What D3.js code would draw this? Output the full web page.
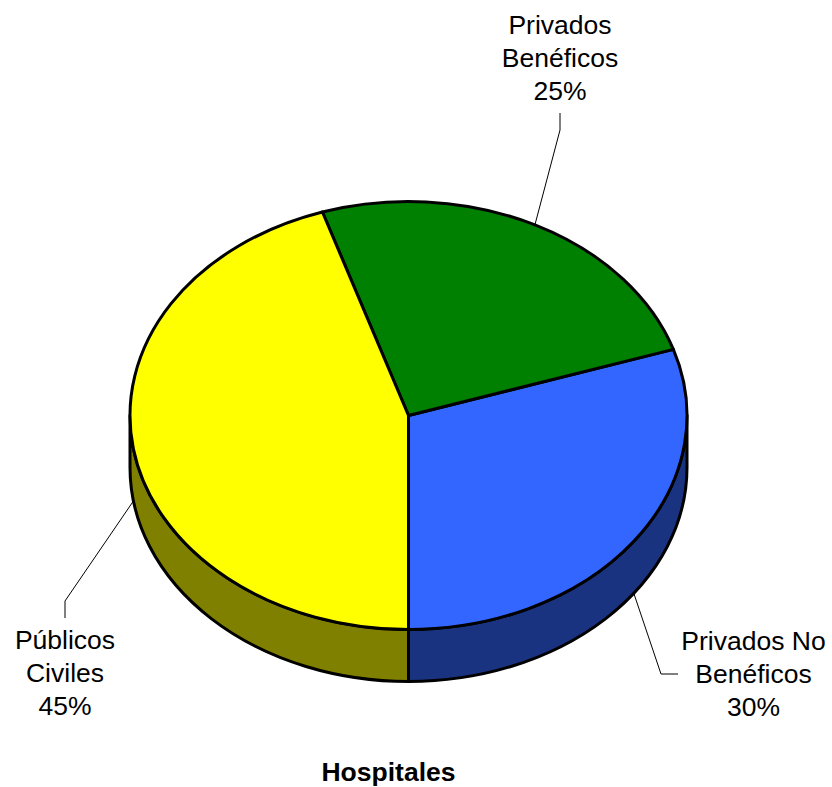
<!DOCTYPE html>
<html><head><meta charset="utf-8">
<script src="https://cdn.jsdelivr.net/npm/d3@7"></script>
<style>html,body{margin:0;padding:0;background:#fff}svg{display:block}text{font-family:"Liberation Sans",Arial,sans-serif;fill:#000}</style>
</head><body><svg id="c" width="832" height="787"></svg>
<script>
const categories = ["Privados No Benéficos", "Privados Benéficos", "Públicos Civiles"];
const values = [30, 25, 45];
const labelLines = [["Privados No", "Benéficos", "30%"], ["Privados", "Benéficos", "25%"], ["Públicos", "Civiles", "45%"]];
const topColors = ["#3366FF", "#008000", "#FFFF00"];
const sideColors = ["#1A3380", "#004000", "#808000"];
const title = "Hospitales";

const cx = 408.5, cy = 415.5, rx = 278.5, ry = 214, depth = 52;
const labelLayout = [
  {x: 753.5, y: 650, elbow: [661, 674], end: [678, 674], front: true},
  {x: 560, y: 34, elbow: [560, 130], end: [560, 113], front: false},
  {x: 65, y: 649, elbow: [65, 601], end: [65, 618], front: true}
];
const fontSize = 26.5, lineGap = 33;

const svg = d3.select("#c");
const pie = d3.pie().sort(null).startAngle(Math.PI).endAngle(-Math.PI);
const arcs = pie(values);

const radius = d3.scaleLinear().domain([0, 1]).range([0, rx]);
const arcGen = d3.arc().innerRadius(0).outerRadius(radius(1));
const px = a => cx + rx * Math.sin(a);
const py = a => cy - ry * Math.cos(a);
const PI = Math.PI;

// visible rim span: the front half of the ellipse, [90deg, 270deg] or its -360deg twin
function wall(d) {
  const a0 = d.endAngle, a1 = d.startAngle;
  for (const [f0, f1] of [[PI / 2, 3 * PI / 2], [-3 * PI / 2, -PI / 2]]) {
    const lo = Math.max(a0, f0), hi = Math.min(a1, f1);
    if (lo < hi) {
      return `M${px(lo)},${py(lo)}A${rx},${ry} 0 0 1 ${px(hi)},${py(hi)}` +
             `L${px(hi)},${py(hi) + depth}A${rx},${ry} 0 0 0 ${px(lo)},${py(lo) + depth}Z`;
    }
  }
  return null;
}
const norm = a => (a % (2 * PI) + 2 * PI) % (2 * PI);

// leader lines under the pie
const mid = d => norm((d.startAngle + d.endAngle) / 2);
svg.append("g").selectAll("path").data(arcs).join("path")
  .attr("fill", "none").attr("stroke", "#000").attr("stroke-width", 1)
  .attr("d", (d, i) => {
    const a = mid(d), L = labelLayout[i];
    const onFront = L.front ? depth : 0;
    return d3.line()([[px(a), py(a) + onFront], L.elbow, L.end]);
  });

// side walls
svg.append("g").selectAll("path").data(arcs.filter(d => wall(d))).join("path")
  .attr("d", wall)
  .attr("fill", d => sideColors[d.index])
  .attr("stroke", "#000").attr("stroke-width", 3).attr("stroke-linejoin", "round");

// top faces
svg.append("g").attr("transform", `translate(${cx},${cy}) scale(1,${ry / rx})`)
  .selectAll("path").data(arcs).join("path")
  .attr("d", d => arcGen({startAngle: d.endAngle, endAngle: d.startAngle}))
  .attr("fill", (d, i) => topColors[i])
  .attr("stroke", "#000").attr("stroke-width", 3).attr("stroke-linejoin", "round")
  .attr("vector-effect", "non-scaling-stroke");

// labels
labelLines.forEach((lines, i) => {
  const L = labelLayout[i];
  svg.append("g").selectAll("text").data(lines).join("text")
    .attr("x", L.x).attr("y", (d, j) => L.y + j * lineGap)
    .attr("text-anchor", "middle").attr("font-size", fontSize).text(d => d);
});

svg.append("text").attr("x", 388.5).attr("y", 780.5).attr("text-anchor", "middle")
  .attr("font-size", fontSize).attr("font-weight", "bold").text(title);
</script></body></html>
